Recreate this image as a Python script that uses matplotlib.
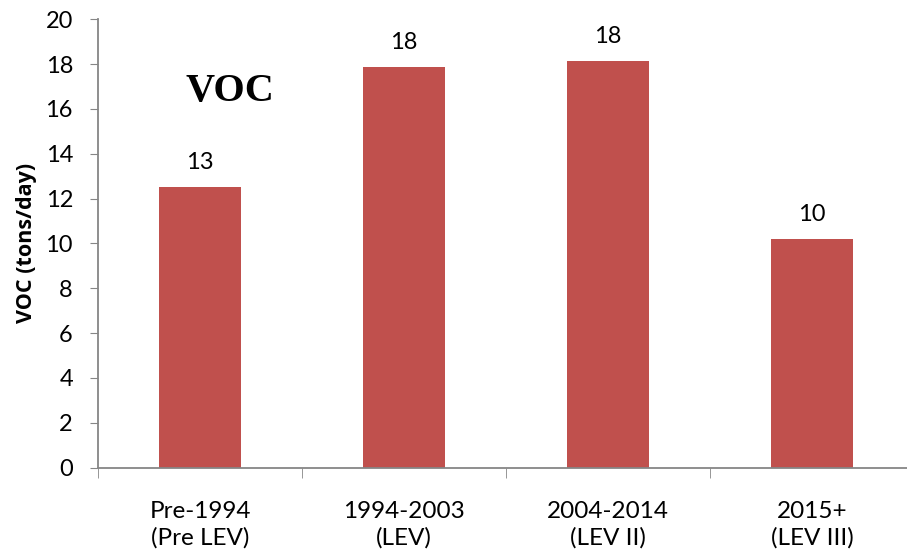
import matplotlib
matplotlib.use("Agg")
import matplotlib.pyplot as plt
from matplotlib.ticker import FixedLocator

categories = ["Pre-1994\n(Pre LEV)", "1994-2003\n(LEV)", "2004-2014\n(LEV II)", "2015+\n(LEV III)"]
voc_values = [12.52, 17.86, 18.13, 10.2]
voc_labels = ["13", "18", "18", "10"]
y_ticks = [0, 2, 4, 6, 8, 10, 12, 14, 16, 18, 20]

plt.rcParams['font.family'] = ['Lato', 'DejaVu Sans']

fig = plt.figure(figsize=(9.07, 5.5), dpi=100)
# axes runs a bit past the right edge like the original
ax = fig.add_axes([98 / 907, (550 - 467.5) / 550, 816 / 907, (467.5 - 19.3) / 550])

x = list(range(len(categories)))
ax.bar(x, voc_values, width=0.4, color='#C0504D', zorder=2)

# value labels above the bars
for xi, v, lab in zip(x, voc_values, voc_labels):
    ax.annotate(lab, xy=(xi, v), xytext=(0, 10), textcoords='offset points',
                ha='center', va='bottom', fontsize=17)

ax.set_xlim(-0.5, 3.5)
ax.set_ylim(0, 20)
ax.set_yticks(y_ticks)
ax.tick_params(axis='y', labelsize=17, length=6, color='#868686', pad=12)

# category labels centered, tick marks at the boundaries
ax.set_xticks(x)
ax.set_xticklabels(categories, fontsize=17.5, linespacing=1.3)
ax.tick_params(axis='x', which='major', length=0, pad=24)
ax.xaxis.set_minor_locator(FixedLocator([-0.5, 0.5, 1.5, 2.5, 3.5]))
ax.tick_params(axis='x', which='minor', length=7, color='#868686')

for s in ['top', 'right']:
    ax.spines[s].set_visible(False)
for s in ['left', 'bottom']:
    ax.spines[s].set_color('#868686')
    ax.spines[s].set_linewidth(1.3)

ax.set_ylabel('VOC (tons/day)', family='Open Sans', fontsize=15.5, fontweight='bold', labelpad=6)

fig.text(230 / 907, 1 - 92 / 550, 'VOC', family='Liberation Serif', fontweight='bold',
         fontsize=29, ha='center', va='center')

plt.savefig('out.png', dpi=100)
